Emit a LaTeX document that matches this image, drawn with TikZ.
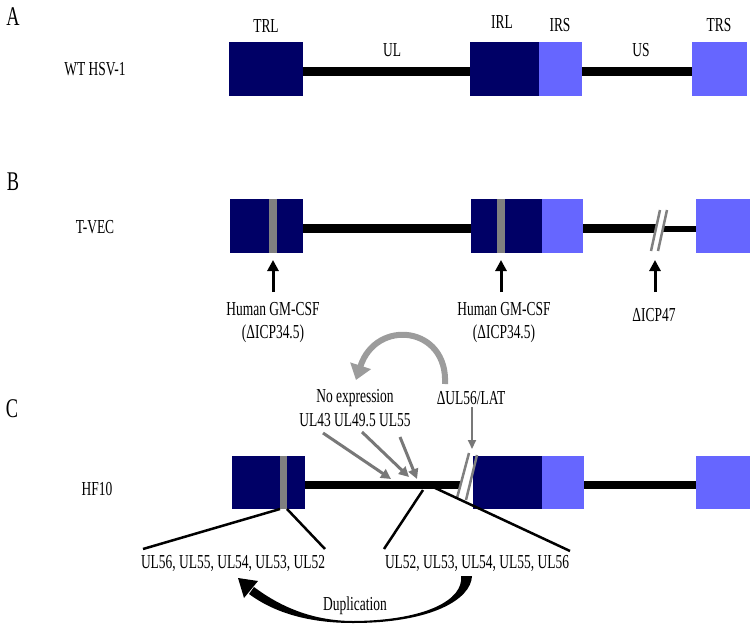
\documentclass[tikz,border=0pt]{standalone}
\usepackage{fontspec}
\setmainfont{Liberation Serif}[FakeStretch=0.68]
\usetikzlibrary{arrows.meta}
\definecolor{navy}{HTML}{000066}
\definecolor{lblue}{HTML}{6666FF}
\definecolor{gbar}{HTML}{808080}
\definecolor{garrow}{HTML}{787878}
\definecolor{lgarrow}{HTML}{9C9C9C}
\begin{document}
\begin{tikzpicture}[x=1pt,y=-1pt,
  lbl/.style={font=\fontsize{19.8}{24}\selectfont, inner sep=0pt, align=center},
  panel/.style={font=\fontsize{27}{30}\selectfont, inner sep=0pt},
  box/.style={inner sep=0pt, outer sep=0pt, anchor=north west, draw=none, minimum height=54pt},
  genome/.style={line width=8.5pt},
  thingenome/.style={line width=6pt},
  barrow/.style={line width=3pt, -{Triangle[width=11pt,length=11pt]}},
  grarrow/.style={draw=garrow, line width=3pt, -{Triangle[width=10pt,length=10pt]}},
  slash/.style={draw=gbar, line width=2.5pt},
  blk/.style={line width=2.5pt}
]
\useasboundingbox (0,0) rectangle (755,626);

% ---------------- Panel A ----------------
\node[panel] (pA) at (13,17) {A};
\node[lbl] (wt) at (95,69) {WT HSV-1};
\node[box, fill=navy, minimum width=74pt] (aTRL) at (229,42) {};
\node[box, fill=navy, minimum width=69pt] (aIRL) at (470,42) {};
\node[box, fill=lblue, minimum width=43pt] (aIRS) at (539,42) {};
\node[box, fill=lblue, minimum width=55pt] (aTRS) at (692,42) {};
\draw[genome] ([yshift=-2.5pt]aTRL.east) -- ([yshift=-2.5pt]aIRL.west);
\draw[genome] ([yshift=-2.5pt]aIRS.east) -- ([yshift=-2.5pt]aTRS.west);
\node[lbl] (lTRL) at (266,26) {TRL};
\node[lbl] (lUL) at (392,50) {UL};
\node[lbl] (lIRL) at (502,22) {IRL};
\node[lbl] (lIRS) at (560,25) {IRS};
\node[lbl] (lUS) at (641,50) {US};
\node[lbl] (lTRS) at (719,25) {TRS};

% ---------------- Panel B ----------------
\node[panel] (pB) at (13,182) {B};
\node[lbl] (tvec) at (95,227) {T-VEC};
\node[box, fill=navy, minimum width=73pt] (bTRL) at (230,199) {};
\node[box, fill=navy, minimum width=71pt] (bIRL) at (471,199) {};
\node[box, fill=lblue, minimum width=41pt] (bIRS) at (542,199) {};
\node[box, fill=lblue, minimum width=54pt] (bTRS) at (696,199) {};
\node[box, fill=gbar, minimum width=8pt] (bbar1) at (269,199) {};
\node[box, fill=gbar, minimum width=8pt] (bbar2) at (497,199) {};
\coordinate (bs1) at (656,228.5);
\coordinate (bs2) at (663,228.5);
\draw[genome] ([yshift=-2.5pt]bTRL.east) -- ([yshift=-2.5pt]bIRL.west);
\draw[genome] ([yshift=-2.5pt]bIRS.east) -- (bs1);
\draw[thingenome] (bs2) -- ([yshift=-2.5pt]bTRS.west);
\draw[slash] (651,251) -- (660,210);
\draw[slash] (658,251) -- (667,210);
\node[lbl] (gm1) at (273,309) {Human GM-CSF};
\node[lbl] (gm1b) at (273,334) {(ΔICP34.5)};
\node[lbl] (gm2) at (504,309) {Human GM-CSF};
\node[lbl] (gm2b) at (504,334) {(ΔICP34.5)};
\node[lbl] (icp47) at (654,315) {ΔICP47};
\coordinate (ba1) at (273,292);
\coordinate (ba2) at (501,292);
\coordinate (ba3) at (655,292);
\coordinate (bt3) at (655,260);
\draw[barrow] (ba1) -- ([yshift=-7pt]bbar1.south);
\draw[barrow] (ba2) -- ([yshift=-7pt]bbar2.south);
\draw[barrow] (ba3) -- (bt3);

% ---------------- Panel C ----------------
\node[panel] (pC) at (12,409) {C};
\node[lbl] (hf10) at (97,489) {HF10};
\node[box, fill=navy, minimum width=73pt, minimum height=53pt] (cTRL) at (232,456) {};
\node[box, fill=navy, minimum width=69pt, minimum height=53pt] (cIRL) at (473,456) {};
\node[box, fill=lblue, minimum width=42pt, minimum height=53pt] (cIRS) at (542,456) {};
\node[box, fill=lblue, minimum width=54pt, minimum height=53pt] (cTRS) at (696,456) {};
\node[box, fill=gbar, minimum width=7pt, minimum height=53pt] (cbar) at (280,456) {};
\coordinate (cs1) at (461,485);
\draw[genome] ([yshift=-2.5pt]cTRL.east) -- (cs1);
\draw[genome] ([yshift=-2.5pt]cIRS.east) -- ([yshift=-2.5pt]cTRS.west);
\draw[slash] (457,498) -- (469,453);
\draw[slash] (466,500) -- (477,455);

\node[lbl] (noexp) at (355,398) {No expression};
\node[lbl] (ulgenes) at (355,420) {UL43 UL49.5 UL55};
\node[lbl] (ul56lat) at (471,398) {ΔUL56/LAT};

\coordinate (g1t) at (323,433); \coordinate (g1h) at (391,479);
\coordinate (g2t) at (362,432); \coordinate (g2h) at (409,477);
\coordinate (g3t) at (400,437); \coordinate (g3h) at (417,479);
\coordinate (g4t) at (472,407); \coordinate (g4h) at (472,449);
\draw[grarrow] (g1t) -- (g1h);
\draw[grarrow] (g2t) -- (g2h);
\draw[grarrow] (g3t) -- (g3h);
\draw[draw=garrow, line width=2pt, -{Triangle[width=8pt,length=9pt]}] (g4t) -- (g4h);

% curved gray arrow
\coordinate (cvs) at (445,384);
\coordinate (cve) at (356,380);
\draw[lgarrow, line width=6pt, -{Triangle[width=21pt,length=15pt]}]
  (cvs) .. controls (448,326) and (376,318) .. (cve);

% expansion lines and gene lists
\node[lbl] (left) at (233,563) {UL56, UL55, UL54, UL53, UL52};
\node[lbl] (right) at (477,563) {UL52, UL53, UL54, UL55, UL56};
\coordinate (e1) at (143,549);
\coordinate (e2) at (325,549);
\coordinate (e3s) at (423,490); \coordinate (e3) at (384,549);
\coordinate (e4s) at (433,487); \coordinate (e4) at (570,551);
\draw[blk] (cbar.south west) -- (e1);
\draw[blk] (cbar.south east) -- (e2);
\draw[blk] (e3s) -- (e3);
\draw[blk] (e4s) -- (e4);

% duplication arrow (tapered)
\fill (472,576) .. controls (471,600) and (430,623) .. (353,623)
      .. controls (305,623) and (272,611) .. (249,594)
      -- (254,587)
      .. controls (278,605) and (310,620.8) .. (353,621)
      .. controls (425,620.5) and (464,600) .. (461,576) -- cycle;
\fill (238,578) -- (258,581) -- (244,598) -- cycle;
\node[lbl] (dup) at (355,606) {Duplication};
\end{tikzpicture}
\end{document}
